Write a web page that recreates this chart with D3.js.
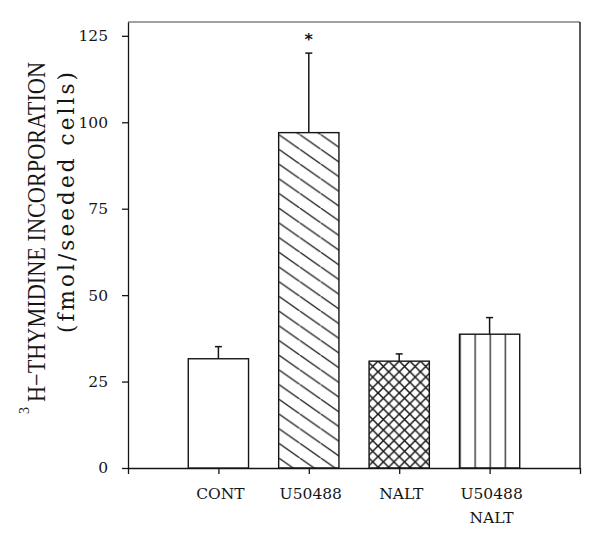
<!DOCTYPE html>
<html>
<head>
<meta charset="utf-8">
<script src="https://cdn.jsdelivr.net/npm/d3@7"></script>
<style>
  html, body { margin: 0; padding: 0; background: #fff; }
  svg { display: block; }
</style>
</head>
<body>
<svg id="chart" width="600" height="537"></svg>
<script>
// ---- data ----
const categories = ["CONT", "U50488", "NALT", "U50488\nNALT"];
const means = [31.6, 97.0, 30.9, 38.7];
const errors = [3.5, 23.0, 2.1, 4.8];
const fills = ["none", "diag", "cross", "vert"];
const significant = [false, true, false, false];
const yTicks = [0, 25, 50, 75, 100, 125];
const yLabelLine1 = "H\u2212THYMIDINE INCORPORATION";
const yLabelSup = "3";
const yLabelLine2 = "(fmol/seeded cells)";

const svg = d3.select("#chart");
const ink = "#151515";

const x = d3.scaleLinear().domain([0, categories.length + 1]).range([128, 580]);
const y = d3.scaleLinear().domain([0, 129]).range([468, 22]);
const step = x(1) - x(0);
const bw = step * 2 / 3;

// ---- patterns ----
const defs = svg.append("defs");
const diag = defs.append("pattern").attr("id", "diag")
  .attr("patternUnits", "userSpaceOnUse").attr("width", 21).attr("height", 14.7)
  .attr("x", x(2) - bw / 2).attr("y", 193.3);
diag.append("path").attr("d", "M-21,-14.7L42,29.4").attr("stroke", ink).attr("stroke-width", 1.3);

const cross = defs.append("pattern").attr("id", "cross")
  .attr("patternUnits", "userSpaceOnUse").attr("width", 10.6).attr("height", 10.6)
  .attr("x", x(3) - bw / 2 + 9).attr("y", y(means[2]));
cross.append("path").attr("d", "M-1,-1L11.6,11.6M11.6,-1L-1,11.6").attr("stroke", ink).attr("stroke-width", 1.5);

const vert = defs.append("pattern").attr("id", "vert")
  .attr("patternUnits", "userSpaceOnUse").attr("width", bw / 4).attr("height", 10)
  .attr("x", x(4) - bw / 2).attr("y", 0);
vert.append("path").attr("d", "M0,0V10").attr("stroke", ink).attr("stroke-width", 2.4);

// ---- frame top ----
svg.append("line").attr("x1", x(0)).attr("x2", x(5)).attr("y1", y(129)).attr("y2", y(129))
  .attr("stroke", "#444").attr("stroke-width", 1.2);
// right frame
svg.append("line").attr("x1", x(5)).attr("x2", x(5)).attr("y1", y(129)).attr("y2", y(0))
  .attr("stroke", ink).attr("stroke-width", 1.4);

// ---- axes ----
const yAxis = svg.append("g").attr("transform", `translate(${x(0)},0)`)
  .call(d3.axisLeft(y).tickValues(yTicks).tickSize(6).tickSizeOuter(0).tickPadding(14));
yAxis.selectAll("text").attr("font-family", "DejaVu Serif").attr("font-size", 15.5).attr("fill", ink);

const xAxis = svg.append("g").attr("transform", `translate(0,${y(0)})`)
  .call(d3.axisBottom(x).tickValues(d3.range(0, categories.length + 2)).tickSize(6).tickSizeOuter(0).tickFormat(""));

svg.selectAll(".domain, .tick line").attr("stroke", ink).attr("stroke-width", 1.3);

// x labels
const xl = svg.append("g");
categories.forEach((c, i) => {
  const lines = c.split("\n");
  const t = xl.append("text").attr("x", x(i + 1) + 2).attr("y", 499)
    .attr("text-anchor", "middle").attr("font-family", "DejaVu Serif").attr("font-size", 15.5).attr("fill", ink);
  lines.forEach((ln, j) => {
    t.append("tspan").attr("x", x(i + 1) + 2).attr("dy", j === 0 ? 0 : 24).text(ln);
  });
});

// ---- bars ----
const g = svg.append("g");
means.forEach((m, i) => {
  const cx = x(i + 1);
  // error bar
  g.append("line").attr("x1", cx).attr("x2", cx).attr("y1", y(m)).attr("y2", y(m + errors[i]))
    .attr("stroke", ink).attr("stroke-width", 1.5);
  g.append("line").attr("x1", cx - 3.5).attr("x2", cx + 3.5).attr("y1", y(m + errors[i])).attr("y2", y(m + errors[i]))
    .attr("stroke", ink).attr("stroke-width", 1.5);
  g.append("rect").attr("x", cx - bw / 2).attr("y", y(m)).attr("width", bw).attr("height", y(0) - y(m))
    .attr("fill", fills[i] === "none" ? "#fff" : `url(#${fills[i]})`)
    .attr("stroke", ink).attr("stroke-width", 1.4);
  if (significant[i]) {
    g.append("text").attr("x", cx).attr("y", 45).attr("text-anchor", "middle")
      .attr("font-family", "DejaVu Sans").attr("font-weight", "bold").attr("font-size", 16).attr("fill", ink).text("*");
  }
});

// ---- y label ----
svg.append("text").attr("transform", "translate(45,402) rotate(-90)")
  .attr("font-family", "Liberation Serif").attr("font-size", 25.5)
  .attr("textLength", 340).attr("lengthAdjust", "spacingAndGlyphs").attr("fill", ink).text(yLabelLine1);
svg.append("text").attr("transform", "translate(28.5,414) rotate(-90)")
  .attr("font-family", "Liberation Serif").attr("font-size", 14).attr("fill", ink).text(yLabelSup);
svg.append("text").attr("transform", "translate(73.5,333) rotate(-90)")
  .attr("font-family", "DejaVu Serif").attr("font-size", 21.5)
  .attr("textLength", 261).attr("lengthAdjust", "spacing").attr("fill", ink).text(yLabelLine2);
</script>
</body>
</html>
